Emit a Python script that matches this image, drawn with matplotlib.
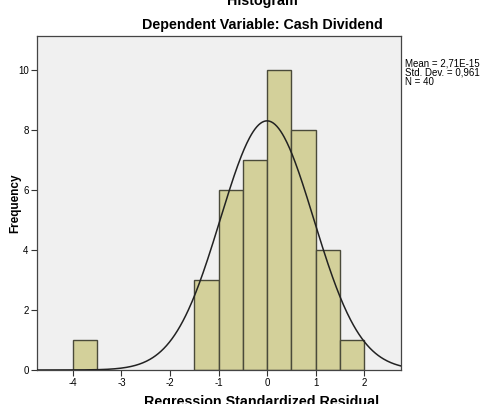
import numpy as np
import matplotlib
matplotlib.use("Agg")
import matplotlib.pyplot as plt

plt.rcParams['font.family'] = ['Liberation Sans', 'DejaVu Sans']
plt.rcParams['axes.unicode_minus'] = False

# histogram of standardized residuals (bin width 0.5)
bin_left = [-4.0, -1.5, -1.0, -0.5, 0.0, 0.5, 1.0, 1.5]
counts = [1, 3, 6, 7, 10, 8, 4, 1]
bin_width = 0.5
mean = 0.0
std = 0.961
n = 40

fig = plt.figure(figsize=(4.86, 4.04), dpi=100)
ax = fig.add_axes([37 / 486, 1 - 370 / 404, 364 / 486, 334 / 404])
ax.set_facecolor('#f0f0f0')

ax.bar(bin_left, counts, width=bin_width, align='edge',
       color='#d3d09a', edgecolor='#4a4a3a', linewidth=1.0, zorder=2)

xs = np.linspace(-4.74, 2.76, 400)
ys = n * bin_width * np.exp(-0.5 * ((xs - mean) / std) ** 2) / (std * np.sqrt(2 * np.pi))
ax.plot(xs, ys, color='#222222', linewidth=1.1, zorder=3)

ax.set_xlim(-4.74, 2.76)
ax.set_ylim(0, 11.13)
ax.set_xticks([-4, -3, -2, -1, 0, 1, 2])
ax.set_yticks([0, 2, 4, 6, 8, 10])
ax.tick_params(labelsize=7, length=4, width=0.8, color='#333333', pad=2)
for s in ax.spines.values():
    s.set_color('#444444')
    s.set_linewidth(0.9)

fig.text(15.5 / 486, 1 - 203 / 404, 'Frequency', rotation=90, ha='center',
         va='center', fontsize=8.5, fontweight='bold')

fig.text(0.539, 1 - 1 / 404, 'Histogram', ha='center', va='center',
         fontsize=10.3, fontweight='bold')
fig.text(0.539, 1 - 25 / 404, 'Dependent Variable: Cash Dividend', ha='center',
         va='center', fontsize=10.3, fontweight='bold')
fig.text(0.539, 1 - 402 / 404, 'Regression Standardized Residual', ha='center',
         va='center', fontsize=10.3, fontweight='bold')

fig.text(405 / 486, 1 - 58 / 404,
         'Mean = 2,71E-15\nStd. Dev. = 0,961\nN = 40',
         ha='left', va='top', fontsize=7, linespacing=0.95)

fig.savefig('out.png', dpi=100)
